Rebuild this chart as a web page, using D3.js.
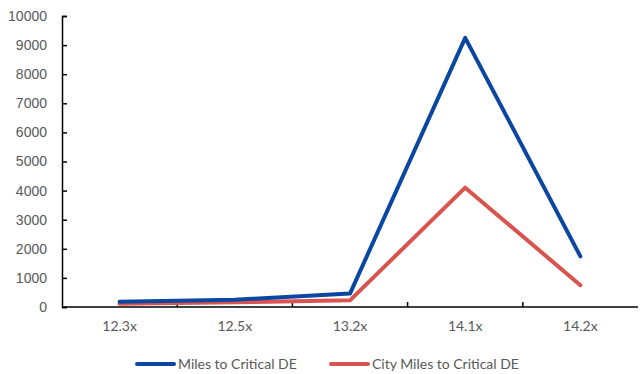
<!DOCTYPE html>
<html>
<head>
<meta charset="utf-8">
<script src="https://cdn.jsdelivr.net/npm/d3@7"></script>
<style>
  html, body { margin: 0; padding: 0; background: #fff; }
  svg { display: block; font-family: Lato, "Open Sans", sans-serif; }
</style>
</head>
<body>
<svg id="chart" width="640" height="374"></svg>
<script>
// Chart data
const categories = ["12.3x", "12.5x", "13.2x", "14.1x", "14.2x"];
const milesToCriticalDE = [180, 250, 460, 9250, 1740];
const cityMilesToCriticalDE = [110, 160, 230, 4100, 750];
const yTicks = [0, 1000, 2000, 3000, 4000, 5000, 6000, 7000, 8000, 9000, 10000];
const seriesNames = ["Miles to Critical DE", "City Miles to Critical DE"];
const seriesColors = ["#0b47a1", "#d9534f"];

const svg = d3.select("#chart");
const margin = { left: 62, right: 2, top: 16, bottom: 67 };
const W = 640, H = 374;

const x = d3.scaleBand().domain(categories).range([margin.left, W - margin.right]).padding(0);
const y = d3.scaleLinear().domain([0, 10000]).range([H - margin.bottom, margin.top]);

const textColor = "#595959";

// Y axis
const yAxis = svg.append("g")
  .attr("transform", `translate(${margin.left},0)`)
  .call(d3.axisLeft(y).tickValues(yTicks).tickSize(-5).tickPadding(15).tickFormat(d3.format("d")));
yAxis.select(".domain").attr("stroke", "#000").attr("stroke-width", 1.5);
yAxis.selectAll(".tick line").attr("stroke", "#000").attr("stroke-width", 1.5);
yAxis.selectAll("text").attr("fill", textColor).style("font-size", "14px");

// X axis with boundary ticks between categories
const xAxisG = svg.append("g").attr("transform", `translate(0,${y(0)})`);
xAxisG.append("line")
  .attr("x1", margin.left).attr("x2", W - margin.right)
  .attr("stroke", "#000").attr("stroke-width", 1.5);
const boundaries = categories.slice(1).map(c => x(c));
xAxisG.selectAll("line.tick").data(boundaries).join("line")
  .attr("class", "tick")
  .attr("x1", d => d).attr("x2", d => d)
  .attr("y1", 0).attr("y2", -5)
  .attr("stroke", "#000").attr("stroke-width", 1.5);
xAxisG.selectAll("text").data(categories).join("text")
  .attr("x", d => x(d) + x.bandwidth() / 2)
  .attr("y", 24)
  .attr("text-anchor", "middle")
  .attr("fill", textColor)
  .style("font-size", "14px")
  .text(d => d);

// Lines
const line = d3.line()
  .x((d, i) => x(categories[i]) + x.bandwidth() / 2)
  .y(d => y(d));

[cityMilesToCriticalDE, milesToCriticalDE].forEach((vals, k) => {
  const color = k === 0 ? seriesColors[1] : seriesColors[0];
  svg.append("path")
    .datum(vals)
    .attr("fill", "none")
    .attr("stroke", color)
    .attr("stroke-width", 4)
    .attr("stroke-linejoin", "round")
    .attr("stroke-linecap", "round")
    .attr("d", line);
});

// Legend
const legendItems = [
  { name: seriesNames[0], color: seriesColors[0], x: 137 },
  { name: seriesNames[1], color: seriesColors[1], x: 331 }
];
const lg = svg.append("g").attr("transform", "translate(0,364)");
legendItems.forEach(item => {
  lg.append("line")
    .attr("x1", item.x).attr("x2", item.x + 37)
    .attr("y1", 0).attr("y2", 0)
    .attr("stroke", item.color).attr("stroke-width", 4)
    .attr("stroke-linecap", "round");
  lg.append("text")
    .attr("x", item.x + 41).attr("y", 5)
    .attr("fill", textColor)
    .style("font-size", "14px")
    .text(item.name);
});
</script>
</body>
</html>
